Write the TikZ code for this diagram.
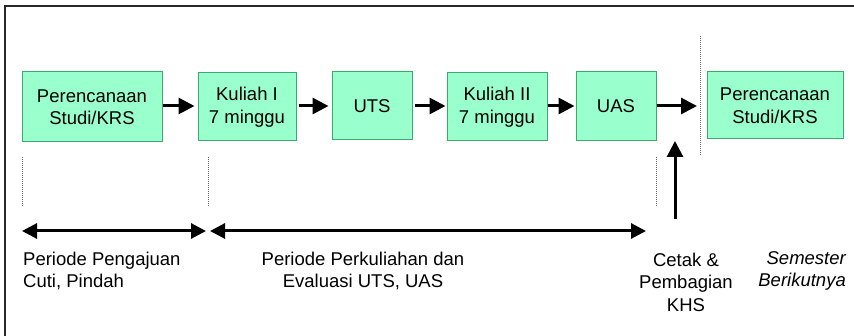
\documentclass[tikz,border=0pt]{standalone}
\usepackage{fontspec}
\setmainfont{Liberation Sans}
\usetikzlibrary{arrows.meta}
\definecolor{boxfill}{RGB}{153,255,204}
\definecolor{boxline}{RGB}{60,170,110}
\definecolor{frameline}{RGB}{40,40,40}
\tikzset{
  stepbox/.style={draw=boxline, fill=boxfill, line width=1pt, inner sep=0pt, align=center,
    font=\fontsize{18.5}{22.5}\selectfont},
  flow/.style={line width=3pt, -{Triangle[length=16pt,width=16pt]}},
  span/.style={line width=3pt, {Triangle[length=15pt,width=15pt]}-{Triangle[length=15pt,width=15pt]}},
  sep/.style={draw=black!60, line width=0.9pt, dash pattern=on 1pt off 1pt},
  lbl/.style={inner sep=0pt, font=\fontsize{18.5}{22.5}\selectfont}
}
\begin{document}
\begin{tikzpicture}[x=1pt,y=-1pt]
\useasboundingbox (0,0) rectangle (854,336);
% frame (left and top edges visible)
\draw[frameline, line width=1.5pt] (5,336) -- (5,6) -- (854,6);
% boxes
\node[stepbox, minimum width=140pt, minimum height=70pt] (b1) at (92,107) {Perencanaan\\Studi/KRS};
\node[stepbox, minimum width=98pt, minimum height=68pt] (b2) at (247,107) {Kuliah I\\7 minggu};
\node[stepbox, minimum width=80pt, minimum height=68pt] (b3) at (372,106) {UTS};
\node[stepbox, minimum width=100pt, minimum height=68pt] (b4) at (497,107) {Kuliah II\\7 minggu};
\node[stepbox, minimum width=80pt, minimum height=69pt] (b5) at (616,106.5) {UAS};
\node[stepbox, minimum width=136pt, minimum height=67pt] (b6) at (775,105.5) {Perencanaan\\Studi/KRS};
% flow arrows
\coordinate (uasend) at (697,106);
\draw[flow] (b1.east |- 0,106) -- ([xshift=-3pt]b2.west |- 0,106);
\draw[flow] ([xshift=2pt]b2.east |- 0,106) -- ([xshift=-3pt]b3.west |- 0,106);
\draw[flow] ([xshift=2pt]b3.east |- 0,106) -- ([xshift=-1pt]b4.west |- 0,106);
\draw[flow] (b4.east |- 0,106) -- ([xshift=-1pt]b5.west |- 0,106);
\draw[flow] (b5.east |- 0,106) -- (uasend);
% dotted separators
\coordinate (d1a) at (22,157); \coordinate (d1b) at (22,207);
\coordinate (d2a) at (208,157); \coordinate (d2b) at (208,207);
\coordinate (d3a) at (656,157); \coordinate (d3b) at (656,207);
\coordinate (d4a) at (700,36); \coordinate (d4b) at (700,156);
\draw[sep] (d1a) -- (d1b);
\draw[sep] (d2a) -- (d2b);
\draw[sep] (d3a) -- (d3b);
\draw[sep] (d4a) -- (d4b);
% period arrows
\coordinate (p1a) at (22,231); \coordinate (p1b) at (206,231);
\coordinate (p2a) at (210,231); \coordinate (p2b) at (646,231);
\draw[span] (p1a) -- (p1b);
\draw[span] (p2a) -- (p2b);
% KHS arrow
\coordinate (khsbot) at (675,219);
\coordinate (khstop) at (675,141);
\draw[flow] (khsbot) -- (khstop);
% labels
\node[lbl, align=left, anchor=west] (t1) at (23,271) {Periode Pengajuan\\Cuti, Pindah};
\node[lbl, align=center] (t2) at (363,271) {Periode Perkuliahan dan\\Evaluasi UTS, UAS};
\node[lbl, align=center] (t3) at (686,282) {Cetak \&\\Pembagian\\KHS};
\node[lbl, align=right, anchor=east, font=\fontsize{18.5}{22.5}\selectfont\itshape] (t4) at (846,271) {Semester\\Berikutnya};
\end{tikzpicture}
\end{document}
